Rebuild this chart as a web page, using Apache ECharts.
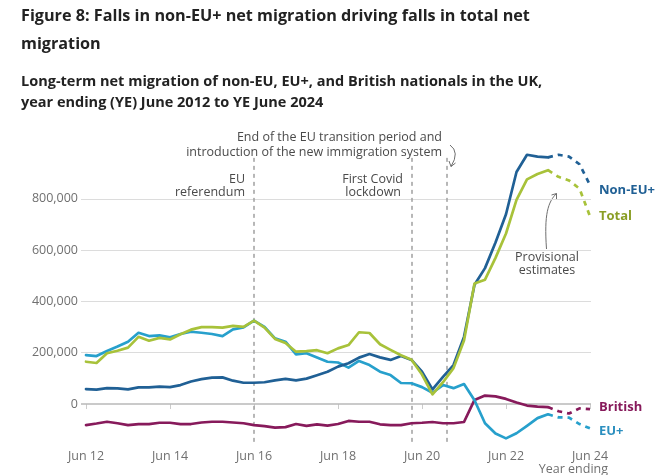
<!DOCTYPE html>
<html>
<head>
<meta charset="utf-8">
<script src="https://cdn.jsdelivr.net/npm/echarts@6/dist/echarts.min.js"></script>
<style>
html,body{margin:0;padding:0;background:#fff;}
#chart{width:656px;height:475px;}
</style>
</head>
<body>
<div id="chart"></div>
<script>
// Quarters (year ending)
const quarters = ['Jun 12','Sep 12','Dec 12','Mar 13','Jun 13','Sep 13','Dec 13','Mar 14','Jun 14','Sep 14','Dec 14','Mar 15','Jun 15','Sep 15','Dec 15','Mar 16','Jun 16','Sep 16','Dec 16','Mar 17','Jun 17','Sep 17','Dec 17','Mar 18','Jun 18','Sep 18','Dec 18','Mar 19','Jun 19','Sep 19','Dec 19','Mar 20','Jun 20','Sep 20','Dec 20','Mar 21','Jun 21','Sep 21','Dec 21','Mar 22','Jun 22','Sep 22','Dec 22','Mar 23','Jun 23','Sep 23','Dec 23','Mar 24','Jun 24'];
const tickLabels = ['Jun 12','Jun 14','Jun 16','Jun 18','Jun 20','Jun 22','Jun 24'];
const yTicks = [0, 200000, 400000, 600000, 800000];
const provisionalFrom = 'Jun 23';

const nonEU = [58000,56000,62000,61000,57000,65000,65000,68000,66000,74000,88000,97000,103000,104000,91000,83000,83000,85000,92000,98000,92000,99000,112000,126000,146000,159000,181000,195000,182000,172000,187000,172000,126000,57000,106000,152000,262000,465000,530000,630000,740000,905000,972000,965000,962000,972000,965000,935000,854000];
const eu = [191000,187000,207000,224000,243000,278000,265000,268000,260000,273000,282000,278000,273000,265000,291000,299000,325000,301000,256000,243000,194000,198000,181000,165000,162000,142000,168000,152000,126000,113000,82000,81000,66000,44000,74000,62000,78000,15000,-75000,-115000,-134000,-114000,-85000,-55000,-40000,-52000,-53000,-78000,-95000];
const british = [-82000,-76000,-69000,-75000,-82000,-78000,-78000,-73000,-73000,-78000,-78000,-72000,-69000,-69000,-72000,-75000,-82000,-86000,-92000,-90000,-78000,-85000,-79000,-84000,-78000,-66000,-69000,-69000,-79000,-82000,-82000,-75000,-73000,-70000,-75000,-75000,-70000,16000,33000,30000,20000,6000,-6000,-10000,-12000,-28000,-37000,-17000,-20000];
const total = [165000,160000,198000,208000,220000,262000,247000,258000,252000,272000,290000,300000,300000,298000,305000,301000,325000,298000,254000,238000,204000,206000,210000,198000,217000,230000,280000,277000,233000,211000,190000,173000,115000,38000,85000,140000,248000,470000,485000,570000,665000,796000,876000,897000,912000,886000,872000,840000,732000];

// Event lines: position on the quarter axis
const events = [16, 31, 34.33];

const FONT = "'Open Sans', 'Noto Sans', sans-serif";
const P = quarters.indexOf(provisionalFrom);

function mk(name, arr, color, labelColor, offY) {
  const solid = arr.slice(0, P + 1).map((v, i) => [i, v]);
  const dashed = arr.slice(P).map((v, k) => [P + k, v]);
  return [
    { name: name, type: 'line', data: solid, symbol: 'none', z: 5,
      lineStyle: { color: color, width: 2.7, cap: 'round', join: 'round' } },
    { name: name + ' (provisional)', type: 'line', data: dashed, symbol: 'none', z: 5,
      lineStyle: { color: color, width: 2.7, type: [5, 5] },
      endLabel: { show: true, formatter: name, color: labelColor, fontFamily: FONT,
        fontWeight: 'bold', fontSize: 13, distance: 9, offset: [0, offY] } }
  ];
}

const gridLines = yTicks.map(v => ({
  yAxis: v,
  lineStyle: v === 0 ? { color: '#b9b9b9', width: 1.5, type: 'solid' } : { color: '#dcdcdc', width: 1, type: 'solid' }
}));
const eventLines = events.map(x => [
  { coord: [x, 960000], lineStyle: { color: '#a6a6a6', width: 1.6, type: [4, 4] } },
  { coord: [x, -150000] }
]);

const chart = echarts.init(document.getElementById('chart'), null, { renderer: 'canvas' });
const option = {
  animation: false,
  backgroundColor: '#fff',
  title: [
    { text: 'Figure 8: Falls in non-EU+ net migration driving falls in total net\nmigration',
      left: 21, top: 2.5, padding: 0,
      textStyle: { fontFamily: FONT, fontSize: 16.2, fontWeight: 'bold', lineHeight: 28, color: '#222222' } },
    { text: 'Long-term net migration of non-EU, EU+, and British nationals in the UK,\nyear ending (YE) June 2012 to YE June 2024',
      left: 21, top: 71.5, padding: 0,
      textStyle: { fontFamily: FONT, fontSize: 14.5, fontWeight: 'bold', lineHeight: 21, color: '#222222' } }
  ],
  grid: { left: 81, right: 65, top: 147.6, bottom: 32.5, containLabel: false },
  xAxis: {
    type: 'value', min: -5 / 10.5, max: quarters.length - 1 + 1 / 10.5,
    axisLine: { show: false },
    splitLine: { show: false },
    axisTick: { show: true, length: 5, lineStyle: { color: '#cccccc' },
      customValues: tickLabels.map(t => quarters.indexOf(t)) },
    axisLabel: { customValues: tickLabels.map(t => quarters.indexOf(t)),
      formatter: v => quarters[Math.round(v)], color: '#707070', fontFamily: FONT, fontSize: 12.5, margin: 7 }
  },
  yAxis: {
    type: 'value', min: -150000, max: 1000000,
    axisLine: { show: false }, axisTick: { show: false }, splitLine: { show: false },
    axisLabel: { customValues: yTicks, formatter: v => v.toLocaleString('en-GB'),
      color: '#707070', fontFamily: FONT, fontSize: 12.5, margin: 3 }
  },
  series: [
    { name: 'grid', type: 'line', data: [[0, 0]], symbol: 'none', z: 1, silent: true,
      lineStyle: { opacity: 0 },
      markLine: { silent: true, symbol: ['none', 'none'], label: { show: false },
        data: gridLines.concat(eventLines) } },
    ...mk('British', british, '#871a5b', '#871a5b', -2),
    ...mk('EU+', eu, '#27a0cc', '#2b8fbf', 3),
    ...mk('Non-EU+', nonEU, '#206095', '#206095', 5),
    ...mk('Total', total, '#a8c23a', '#8a9e25', 0)
  ],
  graphic: [
    { type: 'text', style: { text: 'End of the EU transition period and', x: 442, y: 137, textAlign: 'right', textVerticalAlign: 'middle', font: '12.5px ' + FONT, fill: '#4a4a4a' } },
    { type: 'text', style: { text: 'introduction of the new immigration system', x: 442, y: 152, textAlign: 'right', textVerticalAlign: 'middle', font: '12.5px ' + FONT, fill: '#4a4a4a' } },
    { type: 'text', style: { text: 'EU', x: 245, y: 179, textAlign: 'right', textVerticalAlign: 'middle', font: '12.5px ' + FONT, fill: '#4a4a4a' } },
    { type: 'text', style: { text: 'referendum', x: 245, y: 192.5, textAlign: 'right', textVerticalAlign: 'middle', font: '12.5px ' + FONT, fill: '#4a4a4a' } },
    { type: 'text', style: { text: 'First Covid', x: 403, y: 179, textAlign: 'right', textVerticalAlign: 'middle', font: '12.5px ' + FONT, fill: '#4a4a4a' } },
    { type: 'text', style: { text: 'lockdown', x: 401, y: 192.5, textAlign: 'right', textVerticalAlign: 'middle', font: '12.5px ' + FONT, fill: '#4a4a4a' } },
    { type: 'text', style: { text: 'Provisional', x: 547, y: 257, textAlign: 'center', textVerticalAlign: 'middle', font: '12.5px ' + FONT, fill: '#4a4a4a' } },
    { type: 'text', style: { text: 'estimates', x: 547, y: 270.5, textAlign: 'center', textVerticalAlign: 'middle', font: '12.5px ' + FONT, fill: '#4a4a4a' } },
    { type: 'text', style: { text: 'Year ending', x: 608, y: 469, textAlign: 'right', textVerticalAlign: 'middle', font: '12.5px ' + FONT, fill: '#707070' } },
    // curved arrows
    { type: 'bezierCurve', shape: { x1: 450, y1: 145, x2: 451, y2: 166.5, cpx1: 460, cpy1: 152 },
      style: { stroke: '#6e6e6e', lineWidth: 1, fill: null } },
    { type: 'polyline', shape: { points: [[449, 161], [451, 166.5], [455.5, 163]] },
      style: { stroke: '#6e6e6e', lineWidth: 1, fill: null } },
    { type: 'bezierCurve', shape: { x1: 546.5, y1: 249, x2: 556.5, y2: 193.5, cpx1: 544, cpy1: 214, cpx2: 548, cpy2: 202 },
      style: { stroke: '#6e6e6e', lineWidth: 1, fill: null } },
    { type: 'polyline', shape: { points: [[551.5, 195], [556.5, 193.5], [556.5, 199]] },
      style: { stroke: '#6e6e6e', lineWidth: 1, fill: null } }
  ]
};
chart.setOption(option);
</script>
</body>
</html>
